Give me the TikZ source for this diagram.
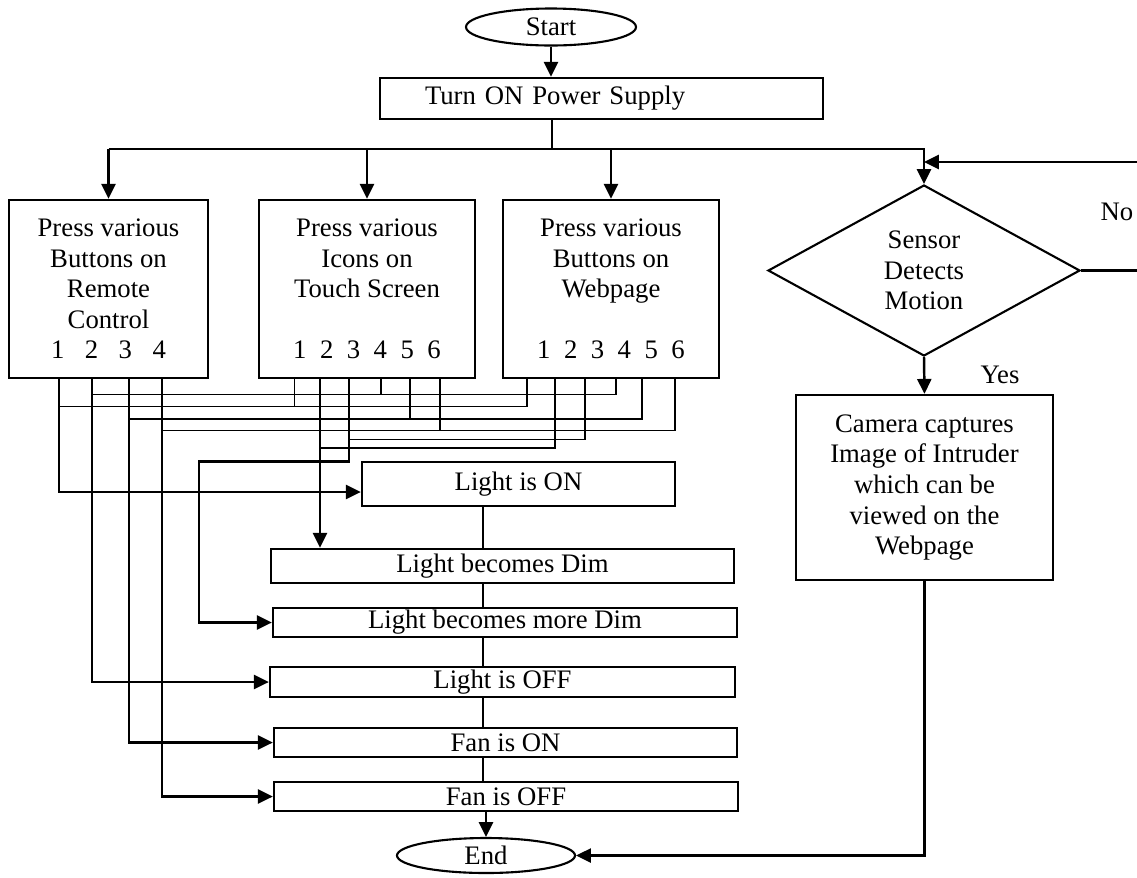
\documentclass[tikz,border=0pt]{standalone}
\usepackage{fontspec}
\setmainfont{Liberation Serif}
\usetikzlibrary{shapes.geometric,arrows.meta}

\begin{document}
\begin{tikzpicture}[
  every node/.style={font=\fontsize{15.2}{17.4}\selectfont},
  box/.style={rectangle,draw,line width=1.3pt,inner sep=0pt,align=center},
  term/.style={ellipse,draw,line width=1.2pt,inner sep=0pt},
  decide/.style={diamond,draw,line width=1.2pt,inner sep=0pt,align=center},
  wire/.style={line width=1pt},
  arr/.style={-{Triangle[length=8.5pt,width=8pt]},line width=1.4pt}
]
\useasboundingbox (0,0) rectangle (22.74,-17.54);
\node[term,minimum width=3.4cm,minimum height=0.74cm] (start) at (11.02,-0.54) {Start};
\node[box,text width=7.06cm,inner xsep=0.9cm,align=left,minimum height=0.82cm] (power) at (12.03,-1.97) {Turn ON Power Supply};
\node[box,minimum width=3.98cm,minimum height=3.56cm] (remote) at (2.17,-5.78)
  {Press various\\Buttons on\\Remote\\Control\\1\hspace{.41cm}2\hspace{.41cm}3\hspace{.41cm}4};
\node[box,minimum width=4.32cm,minimum height=3.56cm] (touch) at (7.34,-5.78)
  {Press various\\Icons on\\Touch Screen\\[17.4pt]1\hspace{.27cm}2\hspace{.27cm}3\hspace{.27cm}4\hspace{.27cm}5\hspace{.27cm}6};
\node[box,minimum width=4.32cm,minimum height=3.56cm] (web) at (12.22,-5.78)
  {Press various\\Buttons on\\Webpage\\[17.4pt]1\hspace{.27cm}2\hspace{.27cm}3\hspace{.27cm}4\hspace{.27cm}5\hspace{.27cm}6};
\node[decide,minimum width=6.24cm,minimum height=3.42cm] (sense) at (18.48,-5.41) {Sensor\\Detects\\Motion};
\node[box,minimum width=5.14cm,minimum height=3.70cm] (cam) at (18.49,-9.75)
  {Camera captures\\Image of Intruder\\which can be\\viewed on the\\Webpage};
\node[box,minimum width=6.26cm,minimum height=0.88cm] (lon) at (10.37,-9.68) {Light is ON};
\node[box,minimum width=9.26cm,minimum height=0.68cm] (ldim) at (10.05,-11.32) {Light becomes Dim};
\node[box,minimum width=9.28cm,minimum height=0.58cm] (lmdim) at (10.10,-12.45) {Light becomes more Dim};
\node[box,minimum width=9.30cm,minimum height=0.60cm] (loff) at (10.05,-13.64) {Light is OFF};
\node[box,minimum width=9.26cm,minimum height=0.58cm] (fon) at (10.11,-14.85) {Fan is ON};
\node[box,minimum width=9.28cm,minimum height=0.58cm] (foff) at (10.12,-15.93) {Fan is OFF};
\node[term,minimum width=3.56cm,minimum height=0.70cm] (stop) at (9.72,-17.11) {End};
\node (yes) at (20.0,-7.5) {Yes};
\node (no) at (22.34,-4.24) {No};

% power on and split
\coordinate (bus) at (11.04,-2.98);
\draw[arr] (start.south) -- (start.south |- power.north);
\draw[wire] (power.south -| bus) -- (bus);
\draw[arr] (remote.north |- bus) -| (sense.north);
\foreach \b in {remote,touch,web}
  \draw[arr] (\b.north |- bus) -- (\b.north);

% sensor branch
\coordinate (loop) at (22.80,-3.24);
\draw[arr] (sense.east) -| (loop) -- (loop -| sense.north);
\draw[arr] (sense.south) -- (cam.north);
\draw[arr] (cam.south) |- (stop.east);

% taps under the number rows
\foreach \n/\x in {1/1.18,2/1.84,3/2.58,4/3.24}
  \coordinate (r\n) at (\x,-7.56);
\foreach \n/\x in {1/5.89,2/6.40,3/6.98,4/7.62,5/8.20,6/8.80}
  \coordinate (t\n) at (\x,-7.56);
\foreach \n/\x in {1/10.54,2/11.10,3/11.70,4/12.32,5/12.84,6/13.50}
  \coordinate (w\n) at (\x,-7.56);
\coordinate (yoff) at (0,-7.89);
\coordinate (yon) at (0,-8.13);
\coordinate (yfon) at (0,-8.38);
\coordinate (yfoff) at (0,-8.61);
\coordinate (ymd) at (0,-8.79);
\coordinate (ydim) at (0,-8.96);
\coordinate (md) at (3.98,-9.23);

\foreach \r/\t/\w/\y in {r1/t1/w1/yon,r2/t4/w4/yoff,r3/t5/w5/yfon,r4/t6/w6/yfoff}{
  \draw[wire] (\w) |- (\r |- \y);
  \draw[wire] (\t) -- (\t |- \y);
}
\draw[wire] (w2) |- (t2 |- ydim);
\draw[wire] (w3) |- (t3 |- ymd);
\draw[arr] (t2) -- (t2 |- ldim.north);
\draw[arr] (t3) |- (md) |- (lmdim.west);
\draw[arr] (r1) |- ([yshift=-0.16cm]lon.west);
\foreach \r/\b in {r2/loff,r3/fon,r4/foff}
  \draw[arr] (\r) |- (\b.west);

% output chain
\coordinate (chain) at (9.66,0);
\foreach \a/\b in {lon/ldim,ldim/lmdim,lmdim/loff,loff/fon,fon/foff}
  \draw[wire] (\a.south -| chain) -- (\b.north -| chain);
\draw[arr] (foff.south -| stop.north) -- (stop.north);
\end{tikzpicture}
\end{document}
